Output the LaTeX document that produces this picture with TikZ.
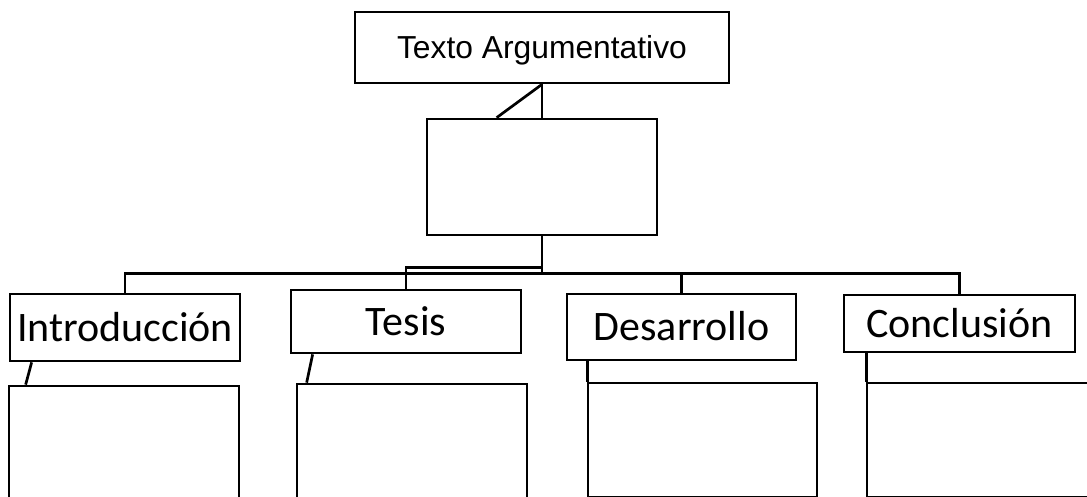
\documentclass[tikz,border=0pt]{standalone}
\usepackage{fontspec}
\newfontfamily\argfont{Liberation Sans}
\newfontfamily\calfont{Carlito}
\usetikzlibrary{calc}
\tikzset{
  every picture/.style={x=1pt,y=-1pt,line width=2.7pt,line join=miter},
  box/.style={draw=black,fill=white,rectangle,inner sep=0pt},
  toplabel/.style={box,font=\argfont\fontsize{31.8}{36}\selectfont,text height=22.8pt,text depth=0pt},
  lbl/.style={box,font=\calfont\fontsize{42}{48}\selectfont,text height=27pt,text depth=0pt},
  link/.style={draw=black,line width=2.7pt}
}
\begin{document}
\begin{tikzpicture}
\useasboundingbox (0,0) rectangle (1087,497);
\clip (0,0) rectangle (1087,497);
% top and middle
\node[toplabel,minimum width=374pt,minimum height=71pt] (top) at (542,47.5) {Texto Argumentativo};
\node[box,minimum width=230pt,minimum height=116pt] (mid) at (542,177) {};
% category boxes
\node[lbl,minimum width=230pt,minimum height=67pt] (intro) at (125,327.5) {Introducción};
\node[lbl,minimum width=230pt,minimum height=63pt] (tesis) at (406,321.5) {Tesis};
\node[lbl,minimum width=229pt,minimum height=66pt] (des) at (681.5,327) {Desarrollo};
\node[lbl,minimum width=231pt,minimum height=57pt] (conc) at (959.5,323.5) {Conclusión};
% detail boxes
\node[box,minimum width=230pt,minimum height=113pt] (introd) at (124,442.5) {};
\node[box,minimum width=230pt,minimum height=115pt] (tesisd) at (412,441.5) {};
\node[box,minimum width=229pt,minimum height=114pt] (desd) at (702.5,440) {};
\node[box,minimum width=230pt,minimum height=114pt] (concd) at (982,440) {};
% connectors top -> mid
\coordinate (dg) at ($(mid.north west)+(71,0)$);
\draw[link] (top.south) -- (mid.north);
\draw[link] (top.south) -- (dg);
% bus
\coordinate (bus) at ($(mid.south)+(0,37)$);
\draw[link] (mid.south) -- (bus);
\draw[link] (bus) -| (intro.north);
\draw[link] (bus) -| (des.north);
\draw[link] (bus) -| (conc.north);
\draw[link] (mid.south) -- ++(0,31) -| (tesis.north);
% category -> detail
\coordinate (i1) at ($(intro.south west)+(23,0)$);
\coordinate (i2) at ($(introd.north west)+(18,0)$);
\draw[link] (i1) -- (i2);
\coordinate (t1) at ($(tesis.south west)+(23,0)$);
\coordinate (t2) at ($(tesisd.north west)+(11,0)$);
\draw[link] (t1) -- (t2);
\coordinate (d1) at ($(des.south west)+(22,0)$);
\coordinate (d2) at ($(desd.north west)+(1,0)$);
\draw[link] (d1) -- (d2);
\coordinate (c1) at ($(conc.south west)+(24,0)$);
\coordinate (c2) at ($(concd.north west)+(1,0)$);
\draw[link] (c1) -- (c2);
\end{tikzpicture}
\end{document}
